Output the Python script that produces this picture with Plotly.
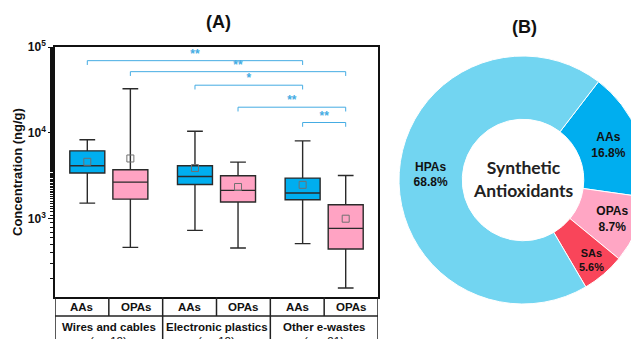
import plotly.graph_objects as go

# ---------------- data ----------------
box_labels = ["AAs", "OPAs", "AAs", "OPAs", "AAs", "OPAs"]
box_pos = [0.6, 1.4, 2.6, 3.4, 4.6, 5.4]
q1 = [3400, 1690, 2505, 1563, 1663, 444]
median = [4130, 2670, 3100, 2140, 1990, 771]
q3 = [6170, 3720, 4130, 3160, 2970, 1455]
lower = [1520, 464, 731, 456, 512, 156]
upper = [8300, 32700, 10450, 4560, 8070, 3190]
mean = [4600, 5030, 3890, 2340, 2480, 1000]

groups = ["Wires and cables", "Electronic plastics", "Other e-wastes"]
group_n = ["(<i>n</i> =12)", "(<i>n</i> =12)", "(<i>n</i> = 21)"]

brackets = [(0, 4), (1, 5), (2, 4), (3, 5), (4, 5)]
bracket_level = [69300, 51600, 35900, 19900, 13200]
bracket_text = ["**", "**", "*", "**", "**"]

pie_labels = ["AAs", "OPAs", "SAs", "HPAs"]
pie_values = [16.8, 8.7, 5.6, 68.8]
pie_text = ["AAs<br>16.8%", "OPAs<br>8.7%", "SAs<br>5.6%", "HPAs<br>68.8%"]

# ---------------- style ----------------
W, H = 639, 339
OFF = 8  # page body margin offset
AA_COL = "#00AEEF"
OPA_COL = "#FFA3C3"
BR_COL = "#45ACE3"
FONT = "Liberation Sans"

def px_x(x):
    return (x - OFF) / W

def py(y):
    return 1 - (y - OFF) / H

fig = go.Figure()

for i in range(len(box_pos)):
    col = AA_COL if box_labels[i] == "AAs" else OPA_COL
    fig.add_trace(go.Box(
        x=[box_pos[i]], q1=[q1[i]], median=[median[i]], q3=[q3[i]],
        lowerfence=[lower[i]], upperfence=[upper[i]],
        width=0.65, whiskerwidth=0.45, fillcolor=col,
        line=dict(color="#2a2a2a", width=1.4),
        boxpoints=False, showlegend=False, hoverinfo="skip"))

fig.add_trace(go.Scatter(
    x=box_pos, y=mean, mode="markers",
    marker=dict(symbol="square-open", size=7, color="#707070", line=dict(width=1)),
    showlegend=False, hoverinfo="skip"))

drop = 10 ** -0.05
for (a, b), lv, t in zip(brackets, bracket_level, bracket_text):
    xa, xb = box_pos[a], box_pos[b]
    fig.add_trace(go.Scatter(
        x=[xa, xa, xb, xb], y=[lv * drop, lv, lv, lv * drop], mode="lines",
        line=dict(color=BR_COL, width=1), showlegend=False, hoverinfo="skip"))
    fig.add_trace(go.Scatter(
        x=[(xa + xb) / 2], y=[lv], mode="text", text=[t], textposition="top center",
        textfont=dict(color=BR_COL, size=12, family=FONT, weight="bold"),
        showlegend=False, hoverinfo="skip"))

# donut (center at 523,180 in page pixels, radius limited by figure edge)
R = 124
CX, CY = 523, 180
fig.add_trace(go.Pie(
    labels=pie_labels, values=pie_values, text=pie_text, textinfo="text",
    sort=False, direction="clockwise", rotation=37.5, hole=0.49,
    marker=dict(colors=[AA_COL, "#FFA6C4", "#F9455A", "#72D5F1"],
                line=dict(color="white", width=1)),
    textposition="inside", insidetextorientation="horizontal",
    textfont=dict(family=FONT, size=12, color="#111111", weight="bold"),
    domain=dict(x=[px_x(CX - R), min(1.0, px_x(CX + R))], y=[py(CY + R), py(CY - R)]),
    showlegend=False, hoverinfo="skip"))

# table below plot (shapes)
shapes = []
def line(x0, y0, x1, y1):
    shapes.append(dict(type="line", xref="x", yref="paper", x0=x0, x1=x1,
                       y0=py(y0), y1=py(y1), line=dict(color="#222222", width=1.5)))
line(0, 316, 6, 316)
for xv in [1, 3, 5]:
    line(xv, 297, xv, 316)
for xv in [0, 2, 4, 6]:
    line(xv, 297, xv, 350)

annotations = []
def ann(x, y, text, size, xref="paper", weight="bold", family=FONT, angle=0, color="#111"):
    annotations.append(dict(x=x, y=y, xref=xref, yref="paper", text=text, showarrow=False,
                            xanchor="center", yanchor="middle", textangle=angle,
                            font=dict(family=family, size=size, color=color, weight=weight)))

for i, lab in enumerate(box_labels):
    ann(i + 0.5, py(306.5), lab, 11.5, xref="x")
for g in range(3):
    ann(2 * g + 1, py(326.5), groups[g], 11.5, xref="x")
    ann(2 * g + 1, py(341), group_n[g], 11.5, xref="x", weight="normal")

ann(px_x(218), py(22), "(A)", 18)
ann(px_x(524), py(27), "(B)", 18)
ann(px_x(18), py(172), "Concentration (ng/g)", 13, angle=-90)
ann(px_x(523), py(179), "Synthetic<br>Antioxidants", 17.5, family="Lato", color="#222")

fig.update_layout(
    width=W, height=H, margin=dict(l=0, r=0, t=0, b=0, autoexpand=False),
    paper_bgcolor="white", plot_bgcolor="white",
    xaxis=dict(domain=[px_x(55), px_x(378)], range=[0, 6], showticklabels=False, ticks="",
               showgrid=False, zeroline=False, showline=True, mirror=True, automargin=False,
               linecolor="#111", linewidth=1.5),
    yaxis=dict(domain=[py(297), py(47)], type="log", range=[2.088, 5.0],
               tickvals=[1e3, 1e4, 1e5],
               ticktext=["10<sup>3</sup>", "10<sup>4</sup>", "10<sup>5</sup>"],
               ticks="outside", ticklen=5, tickwidth=1.3, tickcolor="#111",
               minor=dict(ticks="outside", ticklen=3, tickcolor="#111", showgrid=False),
               tickfont=dict(family=FONT, size=12, color="#111", weight="bold"),
               showgrid=False, zeroline=False, showline=True, mirror=True, automargin=False,
               linecolor="#111", linewidth=1.5),
    shapes=shapes, annotations=annotations,
)

fig.write_html("out.html")
